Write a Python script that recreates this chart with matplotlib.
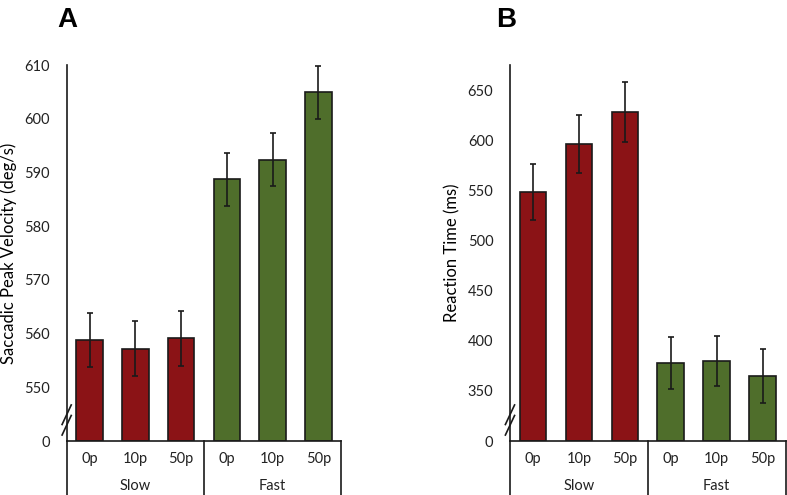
import matplotlib
matplotlib.use("Agg")
import matplotlib.pyplot as plt
from matplotlib.lines import Line2D
from matplotlib.transforms import blended_transform_factory

plt.rcParams["font.family"] = ["Lato", "DejaVu Sans"]

# --- data ---
conditions = ["0p", "10p", "50p", "0p", "10p", "50p"]
groups = ["Slow", "Fast"]

velocity_mean = [558.8, 557.2, 559.1, 588.7, 592.4, 604.9]
velocity_err = [5.1, 5.1, 5.1, 5.0, 5.0, 5.0]

rt_mean = [548, 596, 628, 378, 380, 365]
rt_err = [28, 29, 30, 26, 25, 27]

RED = "#8b1316"
GREEN = "#4f6e2b"
bar_colors = [RED] * 3 + [GREEN] * 3


def broken_bar_panel(ax, means, errs, floor, top, ticks, ylabel):
    """Bar chart with a y-axis break: the floor position is labelled 0."""
    x = list(range(len(means)))
    heights = [m - floor for m in means]
    ax.bar(x, heights, bottom=floor, width=0.58, color=bar_colors,
           edgecolor="#1a1a1a", linewidth=1.2, zorder=2)
    ax.errorbar(x, means, yerr=errs, fmt="none", ecolor="#1a1a1a",
                elinewidth=1.2, capsize=2.5, capthick=1.2, zorder=3)

    ax.set_xlim(-0.5, len(means) - 0.5)
    ax.set_ylim(floor, top)
    ax.set_yticks([floor] + ticks)
    ax.set_yticklabels(["0"] + [str(t) for t in ticks])
    ax.set_ylabel(ylabel, fontsize=12, labelpad=5)
    ax.tick_params(axis="y", length=0, pad=12, labelsize=10.5, colors="#222222")

    ax.set_xticks(x)
    ax.set_xticklabels(conditions)
    ax.tick_params(axis="x", length=0, pad=8, labelsize=10.5, colors="#222222")

    for side in ("top", "right"):
        ax.spines[side].set_visible(False)
    for side in ("left", "bottom"):
        ax.spines[side].set_linewidth(1.2)
        ax.spines[side].set_color("#1a1a1a")

    # group labels and separators under the axis
    trans = blended_transform_factory(ax.transData, ax.transAxes)
    for sep in (-0.5, 2.5, 5.5):
        ax.add_line(Line2D([sep, sep], [0, -0.16], transform=trans,
                           color="#1a1a1a", linewidth=1.2, clip_on=False))
    for i, g in enumerate(groups):
        ax.text(1 + 3 * i, -0.12, g, transform=trans, ha="center",
                va="center", fontsize=10.5, color="#222222")

    # axis break marks (double slash)
    span = top - floor
    yb = floor + span * 0.056
    for dy in (-span * 0.014, span * 0.014):
        ax.add_line(Line2D([-0.6, -0.4], [yb + dy - span * 0.026,
                                          yb + dy + span * 0.026],
                           color="#1a1a1a", linewidth=1.2, clip_on=False))


fig = plt.figure(figsize=(7.87, 4.95), dpi=100)
ax_a = fig.add_axes([0.0847, 0.109, 0.349, 0.7596])
ax_b = fig.add_axes([0.648, 0.109, 0.3503, 0.7596])

broken_bar_panel(ax_a, velocity_mean, velocity_err, 540, 610,
                 [550, 560, 570, 580, 590, 600, 610],
                 "Saccadic Peak Velocity (deg/s)")
broken_bar_panel(ax_b, rt_mean, rt_err, 300, 675,
                 [350, 400, 450, 500, 550, 600, 650],
                 "Reaction Time (ms)")

fig.text(0.085, 0.985, "A", fontsize=20, fontweight="bold",
         family="Liberation Sans", ha="center", va="top")
fig.text(0.643, 0.985, "B", fontsize=20, fontweight="bold",
         family="Liberation Sans", ha="center", va="top")

fig.savefig("out.png", dpi=100)
